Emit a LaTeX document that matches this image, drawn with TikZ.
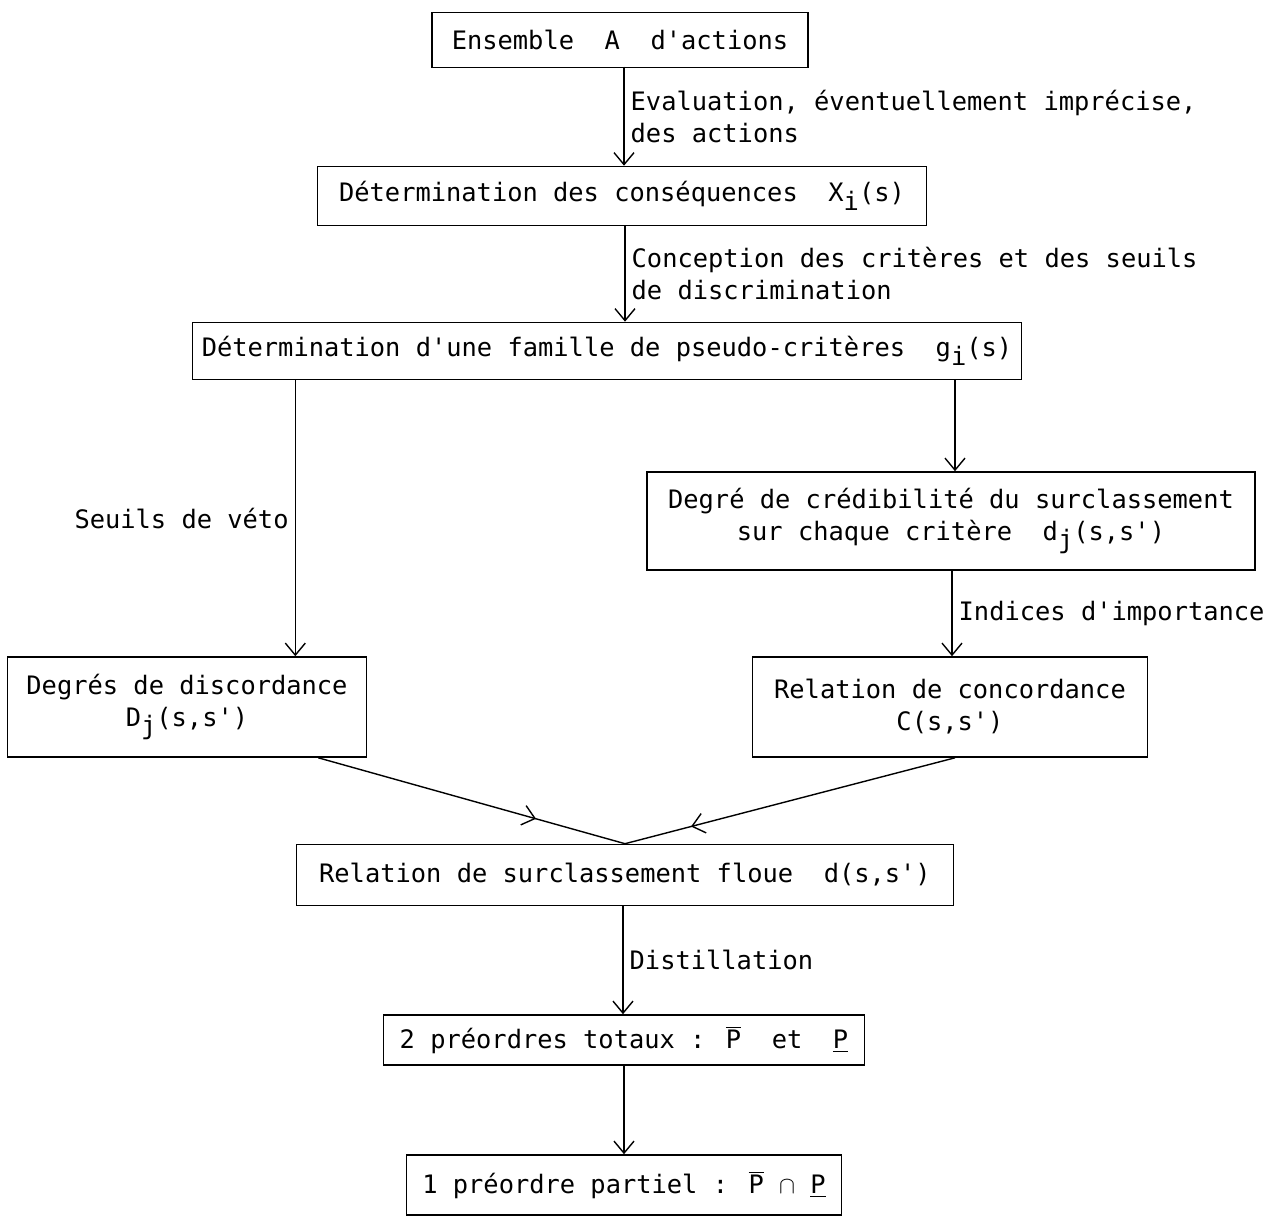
\documentclass[tikz,border=0pt]{standalone}
\usepackage{fontspec}
\newfontfamily\machine{DejaVu Sans Mono}
\usetikzlibrary{arrows.meta,calc,decorations.markings}
\newcommand\ind[1]{\raisebox{-0.6ex}{#1}}
\newcommand\q{\textquotesingle}
\newcommand\Pbar{\ensuremath{\overline{\hbox{P}}}}
\tikzset{
  bloc/.style={draw, line width=0.8pt, align=center, inner sep=0pt},
  larg/.style={minimum width=#1*0.5pt},
  haut/.style={minimum height=#1*0.5pt},
  pointe/.tip={Straight Barb[length=6pt,width=10pt]},
  fleche/.style={line width=0.7pt, -pointe},
  milieu/.style={line width=0.7pt, postaction={decorate},
    decoration={markings, mark=at position #1 with {\arrow{pointe}}}},
  etiq/.style={align=left, inner sep=3pt},
}

\begin{document}
\begin{tikzpicture}[x=0.5pt,y=-0.5pt,font=\machine\fontsize{12.7}{16}\selectfont]
    \useasboundingbox (0,0) rectangle (1282,1216);
    % boites
    \node[bloc, larg=376, haut=55] (ens) at (620,40) {Ensemble~~A~~d\q actions};
    \node[bloc, larg=609, haut=59] (csq) at (622,196) {Détermination des conséquences~~X\ind{i}(s)};
    \node[bloc, larg=829, haut=57] (fam) at (607,351) {Détermination d\q une famille de pseudo-critères~~g\ind{i}(s)};
    \node[bloc, larg=608, haut=98] (cred) at (951,521) {Degré de crédibilité du surclassement\\sur chaque critère~~d\ind{j}(s,s\q)};
    \node[bloc, larg=359, haut=100] (disc) at (187,707) {Degrés de discordance\\D\ind{j}(s,s\q)};
    \node[bloc, larg=395, haut=100] (conc) at (950,707) {Relation de concordance\\C(s,s\q)};
    \node[bloc, larg=657, haut=61] (surcl) at (625,875) {Relation de surclassement floue~~d(s,s\q)};
    \node[bloc, larg=481, haut=50] (tot) at (624,1040) {2 préordres totaux : \Pbar~~et~~\underline{P}};
    \node[bloc, larg=435, haut=60] (part) at (624,1185) {1 préordre partiel : \Pbar{} $\cap$ \underline{P}};
    % fleches
    \draw[fleche] (csq.north -| 624,0) ++(0,-99) -- node[etiq, right] {Evaluation, éventuellement imprécise,\\des actions} (csq.north -| 624,0);
    \draw[fleche] (csq.south -| 625,0) -- node[etiq, right] {Conception des critères et des seuils\\de discrimination} (fam.north -| 625,0);
    \coordinate (v1) at ($(disc.north east)+(-72,0)$);
    \draw[fleche] (v1 |- fam.south) -- node[etiq, left] {Seuils de véto} (v1);
    \coordinate (v2) at ($(cred.north)+(4,0)$);
    \draw[fleche] (v2 |- fam.south) -- (v2);
    \coordinate (v3) at ($(conc.north)+(2,0)$);
    \draw[fleche] (v3 |- cred.south) -- node[etiq, right] {Indices d\q importance} (v3);
    \coordinate (d1) at ($(disc.south east)+(-49,0)$);
    \coordinate (d2) at ($(conc.south)+(5,0)$);
    \draw[milieu=0.71] (d1) -- (surcl.north);
    \draw[milieu=0.8] (d2) -- (surcl.north);
    \draw[fleche] (surcl.south -| 623,0) -- node[etiq, right] {Distillation} (tot.north -| 623,0);
    \draw[fleche] (tot.south) -- (part.north);
\end{tikzpicture}
\end{document}
